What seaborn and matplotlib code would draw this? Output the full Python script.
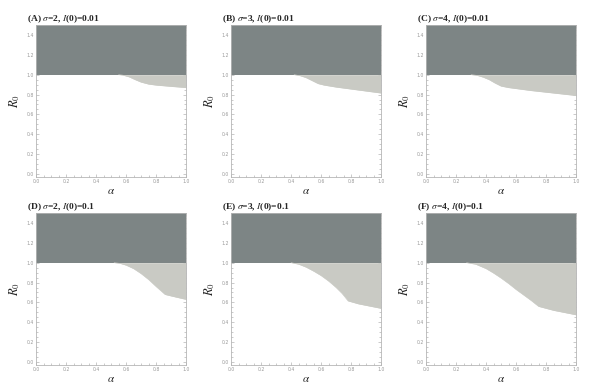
import numpy as np
import pandas as pd
import matplotlib
matplotlib.use("Agg")
import matplotlib.pyplot as plt
import seaborn as sns
from matplotlib.ticker import MultipleLocator

sns.set_style("ticks")
plt.rcParams['font.family'] = ['Liberation Serif', 'DejaVu Serif']
plt.rcParams['mathtext.fontset'] = 'stix'

# Panel titles
labels = ["(A)", "(B)", "(C)", "(D)", "(E)", "(F)"]
sigmas = [2, 3, 4, 2, 3, 4]
i0s = ["0.01", "0.01", "0.01", "0.1", "0.1", "0.1"]

# Lower boundary of light region (alpha, R0)
a_A = [0.0, 0.55, 0.58, 0.62, 0.66, 0.70, 0.75, 0.80, 0.90, 1.00]
r_A = [1.0, 1.00, 0.995, 0.978, 0.95, 0.925, 0.905, 0.895, 0.882, 0.87]
a_B = [0.0, 0.42, 0.46, 0.50, 0.54, 0.58, 0.62, 0.70, 0.80, 1.00]
r_B = [1.0, 1.00, 0.99, 0.97, 0.94, 0.91, 0.895, 0.875, 0.855, 0.815]
a_C = [0.0, 0.30, 0.34, 0.38, 0.42, 0.46, 0.50, 0.55, 0.70, 1.00]
r_C = [1.0, 1.00, 0.993, 0.975, 0.95, 0.915, 0.885, 0.87, 0.84, 0.79]
a_D = [0.0, 0.52, 0.56, 0.60, 0.65, 0.70, 0.75, 0.80, 0.86, 0.90, 1.00]
r_D = [1.0, 1.00, 0.993, 0.975, 0.94, 0.89, 0.83, 0.76, 0.68, 0.665, 0.63]
a_E = [0.0, 0.40, 0.45, 0.50, 0.55, 0.60, 0.65, 0.70, 0.74, 0.78, 0.85, 1.00]
r_E = [1.0, 1.00, 0.985, 0.955, 0.915, 0.87, 0.815, 0.75, 0.69, 0.615, 0.585, 0.54]
a_F = [0.0, 0.27, 0.33, 0.40, 0.45, 0.50, 0.55, 0.60, 0.65, 0.70, 0.75, 0.85, 1.00]
r_F = [1.0, 1.00, 0.985, 0.94, 0.895, 0.845, 0.79, 0.73, 0.675, 0.62, 0.56, 0.52, 0.475]

alphas = [a_A, a_B, a_C, a_D, a_E, a_F]
r0s = [r_A, r_B, r_C, r_D, r_E, r_F]

dark = "#7d8585"
light = "#c9cac4"
framec = "#b5b5b5"

fig = plt.figure(figsize=(5.89, 3.86), dpi=100)
lefts = [36 / 589, 231 / 589, 426 / 589]
bottoms = [1 - 177 / 386, 1 - 365 / 386]
w = 150 / 589
h = 152 / 386

for k in range(6):
    row, col = divmod(k, 3)
    ax = fig.add_axes([lefts[col], bottoms[row], w, h])
    df = pd.DataFrame({"alpha": alphas[k], "R0": r0s[k]})
    ax.fill_between([0, 1], 1.0, 1.5, color=dark, lw=0)
    ax.fill_between(df["alpha"], df["R0"], 1.0, color=light, lw=0)
    sns.lineplot(data=df.iloc[1:], x="alpha", y="R0", ax=ax, color=light, lw=0.4,
                 estimator=None, sort=False)
    ax.set_xlim(0, 1.0)
    ax.set_ylim(-0.03, 1.5)
    ax.xaxis.set_minor_locator(MultipleLocator(0.05))
    ax.yaxis.set_minor_locator(MultipleLocator(0.05))
    ax.set_xticks([0, 0.2, 0.4, 0.6, 0.8, 1.0])
    ax.set_xticklabels(["0.0", "0.2", "0.4", "0.6", "0.8", "1.0"])
    ax.set_yticks([0, 0.2, 0.4, 0.6, 0.8, 1.0, 1.2, 1.4])
    ax.set_yticklabels(["0.0", "0.2", "0.4", "0.6", "0.8", "1.0", "1.2", "1.4"])
    ax.tick_params(which="both", direction="in", top=True, right=True,
                   color=framec, width=0.5, labelsize=3.3, labelcolor="#999999",
                   pad=1.5, labelfontfamily="DejaVu Sans")
    ax.tick_params(which="major", length=2.5)
    ax.tick_params(which="minor", length=1.3)
    for s in ax.spines.values():
        s.set_color(framec)
        s.set_linewidth(0.6)
    ax.set_xlabel(r"$\alpha$", fontsize=8, labelpad=2)
    ax.set_ylabel(r"$R_0$", fontsize=9, labelpad=3)
    ax.set_title(labels[k] + r" $\sigma$=" + str(sigmas[k]) + r", $I$(0)=" + i0s[k],
                 loc="left", fontsize=6.8, fontweight="bold", pad=3, x=-0.06)

fig.savefig("out.png", dpi=100)
